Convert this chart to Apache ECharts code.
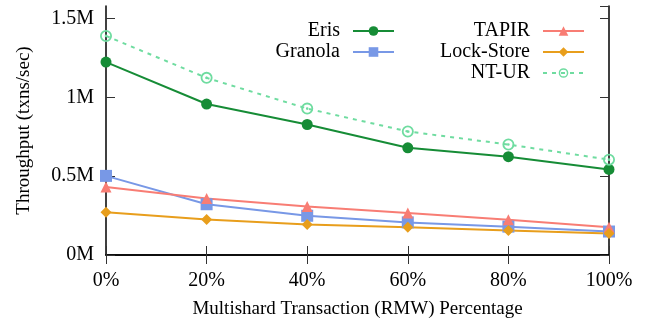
<!DOCTYPE html>
<html>
<head>
<meta charset="utf-8">
<script src="https://cdn.jsdelivr.net/npm/echarts@6/dist/echarts.min.js"></script>
<style>
  html, body { margin: 0; padding: 0; background: #fff; }
  #chart { width: 646px; height: 324px; }
</style>
</head>
<body>
<div id="chart"></div>
<script>
// Multishard RMW percentage on x, throughput in transactions/sec on y
const categories = ['0%', '20%', '40%', '60%', '80%', '100%'];
const eris      = [1224000, 958000, 828000, 680000, 624000, 543000];
const granola   = [502000, 322000, 249000, 207000, 180000, 149000];
const tapir     = [431000, 359000, 307000, 266000, 224000, 176000];
const lockStore = [272000, 226000, 193000, 176000, 156000, 137000];
const ntUr      = [1390000, 1124000, 929000, 784000, 701000, 605000];
const yTicks    = [0, 500000, 1000000, 1500000];

const FONT = 'Liberation Serif';

// open circle with a centre dot
const ringDot = 'path://M0,-10A10,10,0,1,1,0,10A10,10,0,1,1,0,-10Z' +
  'M0,-7A7,7,0,1,0,0,7A7,7,0,1,0,0,-7Z' +
  'M0,-2.2A2.2,2.2,0,1,1,0,2.2A2.2,2.2,0,1,1,0,-2.2Z';

function line(name, data, color, symbol, size, dashed) {
  return {
    name: name,
    type: 'line',
    data: data,
    symbol: symbol,
    symbolSize: size,
    showAllSymbol: true,
    lineStyle: { color: color, width: 2, type: dashed ? [4, 5] : 'solid' },
    itemStyle: { color: color },
    emphasis: { disabled: true },
    animation: false
  };
}

const chart = echarts.init(document.getElementById('chart'), null, { renderer: 'canvas' });

const legendText = {
  fontFamily: FONT, fontSize: 20, color: '#000', lineHeight: 20,
  padding: [0, 8, 0, 0]
};

chart.setOption({
  backgroundColor: '#fff',
  animation: false,
  grid: { left: 106, right: 37, top: 6, bottom: 64 },
  legend: [
    {
      data: ['Eris', 'Granola'],
      orient: 'vertical', align: 'right',
      right: 246, top: 16,
      itemWidth: 41, itemHeight: 12, itemGap: 1,
      textStyle: legendText,
      selectedMode: false
    },
    {
      data: ['TAPIR', 'Lock-Store', 'NT-UR'],
      orient: 'vertical', align: 'right',
      right: 56, top: 16,
      itemWidth: 41, itemHeight: 12, itemGap: 1,
      textStyle: legendText,
      selectedMode: false
    }
  ],
  xAxis: [
    {
      type: 'category', data: categories, boundaryGap: false,
      position: 'bottom',
      name: 'Multishard Transaction (RMW) Percentage',
      nameLocation: 'middle', nameGap: 45,
      nameTextStyle: { fontFamily: FONT, fontSize: 19, color: '#000' },
      axisLine: { lineStyle: { color: '#000', width: 1.5 } },
      axisTick: { inside: true, length: 9, lineStyle: { color: '#333', width: 1 } },
      axisLabel: { fontFamily: FONT, fontSize: 20, color: '#000', margin: 16 },
      splitLine: { show: false }
    },
    {
      type: 'category', data: categories, boundaryGap: false,
      position: 'top',
      axisLine: { lineStyle: { color: '#000', width: 1.5 } },
      axisTick: { inside: true, length: 9, lineStyle: { color: '#333', width: 1 } },
      axisLabel: { show: false },
      splitLine: { show: false }
    }
  ],
  yAxis: [
    {
      type: 'value', min: 0, max: 1580000, interval: 500000,
      position: 'left',
      name: 'Throughput (txns/sec)',
      nameLocation: 'middle', nameGap: 72,
      nameTextStyle: { fontFamily: FONT, fontSize: 19, color: '#000' },
      axisLine: { show: true, lineStyle: { color: '#000', width: 1.5 } },
      axisTick: { show: true, inside: true, length: 9, lineStyle: { color: '#333', width: 1 } },
      axisLabel: {
        fontFamily: FONT, fontSize: 20, color: '#000', margin: 12,
        showMaxLabel: false,
        formatter: function (v) { return yTicks.indexOf(v) >= 0 ? (v / 1e6) + 'M' : ''; }
      },
      splitLine: { show: false }
    },
    {
      type: 'value', min: 0, max: 1580000, interval: 500000,
      position: 'right',
      axisLine: { show: true, lineStyle: { color: '#000', width: 1.5 } },
      axisTick: { show: true, inside: true, length: 9, lineStyle: { color: '#333', width: 1 } },
      axisLabel: { show: false },
      splitLine: { show: false }
    }
  ],
  series: [
    line('Eris', eris, '#168c36', 'circle', 11, false),
    line('Granola', granola, '#7898e6', 'rect', 12, false),
    line('TAPIR', tapir, '#f87d74', 'triangle', 11, false),
    line('Lock-Store', lockStore, '#e89e1c', 'diamond', 11, false),
    line('NT-UR', ntUr, '#6fdca0', ringDot, 12, true)
  ]
});
</script>
</body>
</html>
